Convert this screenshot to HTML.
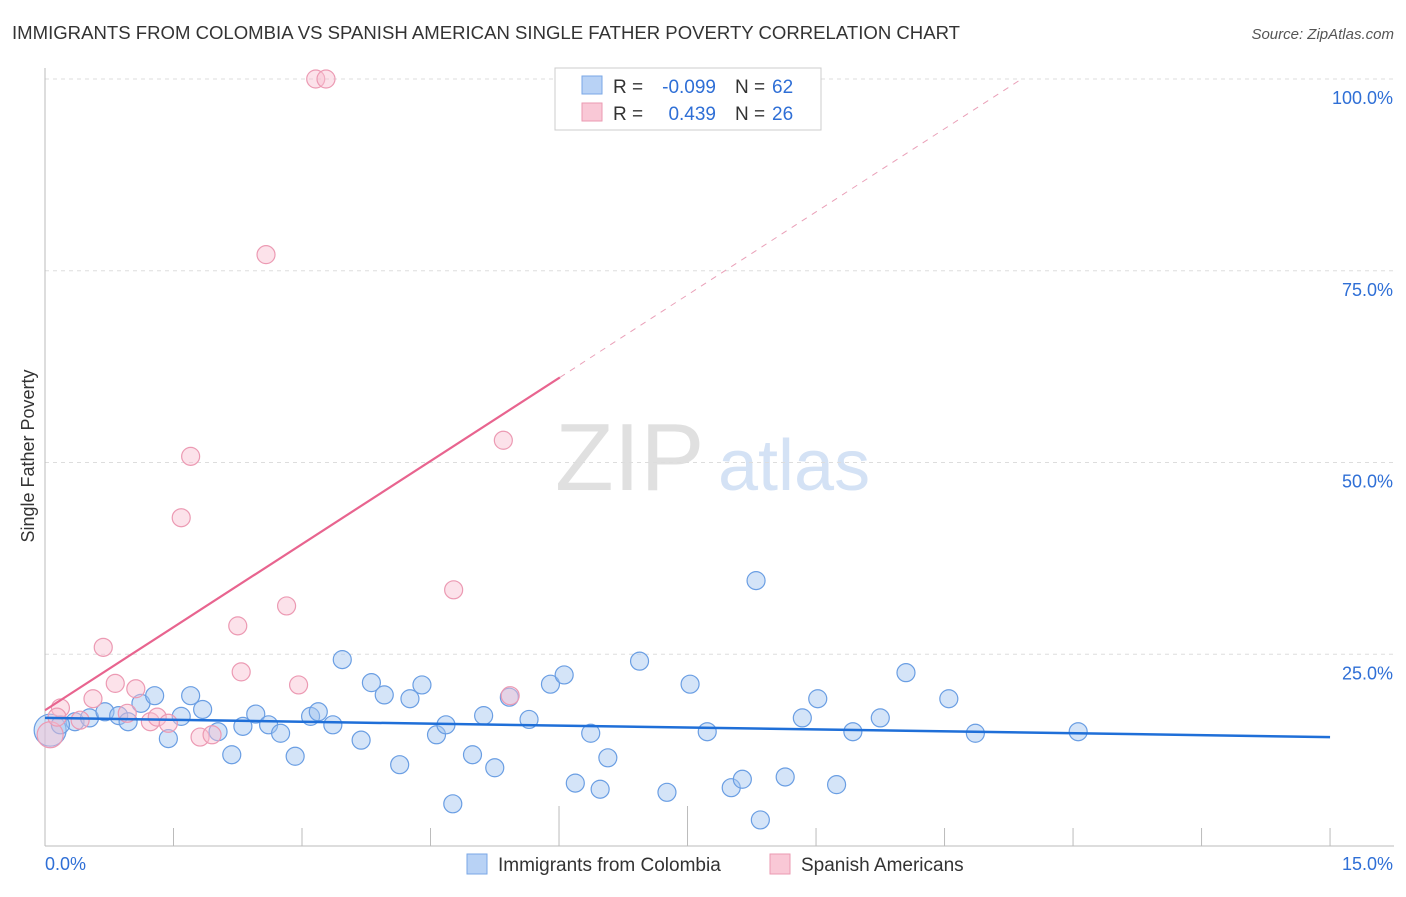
<!DOCTYPE html>
<html><head><meta charset="utf-8"><style>
body{margin:0;background:#fff;font-family:"Liberation Sans",sans-serif;}
svg text{font-family:"Liberation Sans",sans-serif;}
</style></head><body>
<svg id="c" width="1406" height="892" xmlns="http://www.w3.org/2000/svg">
<text x="12" y="39" font-size="18" fill="#333" textLength="948" lengthAdjust="spacingAndGlyphs">IMMIGRANTS FROM COLOMBIA VS SPANISH AMERICAN SINGLE FATHER POVERTY CORRELATION CHART</text>
<text x="1394" y="39" font-size="15" fill="#555" font-style="italic" text-anchor="end">Source: ZipAtlas.com</text>
<text x="34" y="456" font-size="18" fill="#333" text-anchor="middle" transform="rotate(-90 34 456)">Single Father Poverty</text>
<text x="555" y="490" font-size="96" fill="#e0e0e0" font-family="Liberation Serif">ZIP</text>
<text x="718" y="490" font-size="72" fill="#d4e2f5">atlas</text>
<g id="grid"></g><g id="marks"></g>
<g>
<rect x="555" y="68" width="266" height="62" fill="#fff" stroke="#ccc"/>
<rect x="582" y="76" width="20" height="18" fill="#b8d2f5" stroke="#7aa7e6"/>
<rect x="582" y="103" width="20" height="18" fill="#f9c8d6" stroke="#eb9ab2"/>
<text x="613" y="93" font-size="19" fill="#333">R =</text>
<text x="716" y="93" font-size="19" fill="#2f6fd6" text-anchor="end">-0.099</text>
<text x="735" y="93" font-size="19" fill="#333">N =</text>
<text x="772" y="93" font-size="19" fill="#2f6fd6">62</text>
<text x="613" y="120" font-size="19" fill="#333">R =</text>
<text x="716" y="120" font-size="19" fill="#2f6fd6" text-anchor="end">0.439</text>
<text x="735" y="120" font-size="19" fill="#333">N =</text>
<text x="772" y="120" font-size="19" fill="#2f6fd6">26</text>
</g>
<g>
<rect x="467" y="854" width="20" height="20" fill="#b8d2f5" stroke="#7aa7e6"/>
<text x="498" y="871" font-size="19" fill="#333">Immigrants from Colombia</text>
<rect x="770" y="854" width="20" height="20" fill="#f9c8d6" stroke="#eb9ab2"/>
<text x="801" y="871" font-size="19" fill="#333">Spanish Americans</text>
</g>
</svg>
<script>
const yTicks=[25,50,75,100];
const xTickLabels=["0.0%","15.0%"];
const blueX=[0.06,0.35,0.52,0.70,0.86,0.97,1.12,1.28,1.44,1.59,1.70,1.84,2.02,2.18,2.31,2.46,2.61,2.75,2.92,3.10,3.19,3.36,3.47,3.69,3.81,3.96,4.14,4.26,4.40,4.57,4.68,4.76,4.99,5.12,5.25,5.42,5.65,5.90,6.06,6.19,6.37,6.48,6.57,6.94,7.26,7.53,7.73,8.01,8.14,8.30,8.35,8.64,8.84,9.02,9.24,9.43,9.75,10.05,10.55,10.86,12.06,0.18];
const blueY=[15.1,16.2,16.7,17.5,17.0,16.2,18.6,19.6,14.0,16.9,19.6,17.8,14.9,11.9,15.6,17.2,15.8,14.7,11.7,16.9,17.5,15.8,24.3,13.8,21.3,19.7,10.6,19.2,21.0,14.5,15.8,5.5,11.9,17.0,10.2,19.4,16.5,21.1,22.3,8.2,14.7,7.4,11.5,24.1,7.0,21.1,14.9,7.6,8.7,34.6,3.4,9.0,16.7,19.2,8.0,14.9,16.7,22.6,19.2,14.7,14.9,15.8];
const pinkX=[0.06,0.18,0.41,0.56,0.68,0.82,0.96,1.06,1.23,1.31,1.44,1.59,1.70,1.81,1.95,2.25,2.29,2.82,2.96,3.16,3.28,2.58,4.77,5.35,5.43,0.14];
const pinkY=[14.5,18.0,16.4,19.2,25.9,21.2,17.3,20.5,16.2,16.8,16.0,42.8,50.8,14.2,14.5,28.7,22.7,31.3,21.0,100,100,77.1,33.4,52.9,19.6,16.8];
const blueFit=[16.7,14.2];
const pinkFit=[17.7,7.22];
const X0=45,XS=85.67,Y0=846,YS=7.67;
const sx=v=>X0+v*XS, sy=v=>Y0-v*YS;
const NS="http://www.w3.org/2000/svg";
function mk(t,a,p){const e=document.createElementNS(NS,t);for(const k in a)e.setAttribute(k,a[k]);p.appendChild(e);return e;}
const g=document.getElementById('grid'),m=document.getElementById('marks');
yTicks.forEach(t=>{
 const l=mk('line',{x1:45,x2:1394,y1:sy(t),y2:sy(t),stroke:'#ddd','stroke-dasharray':'4,4'},g);
 
 
 const tx=mk('text',{x:1393,y:sy(t)+25,'font-size':18,fill:'#2f6fd6','text-anchor':'end'},g);tx.textContent=t.toFixed(1)+'%';
 
 
});
const ax=mk('line',{x1:45,x2:45,y1:68,y2:846,stroke:'#bbb'},g);


const bx=mk('line',{x1:45,x2:1394,y1:846,y2:846,stroke:'#bbb'},g);


for(let i=1;i<=10;i++){const t=mk('line',{x1:sx(i*1.5),x2:sx(i*1.5),y1:846-(i==4||i==5?40:18),y2:846,stroke:'#bbb'},g);
 
 }
const xl=mk('text',{x:45,y:870,'font-size':18,fill:'#2f6fd6'},g);xl.textContent=xTickLabels[0];


const xr=mk('text',{x:1393,y:870,'font-size':18,fill:'#2f6fd6','text-anchor':'end'},g);xr.textContent=xTickLabels[1];


blueX.forEach((x,i)=>{const c=mk('circle',{cx:sx(x),cy:sy(blueY[i]),r:i==0?16:9,fill:'rgba(160,196,240,0.45)',stroke:'#6a9ee3','stroke-width':1.2},m);
 
 });
pinkX.forEach((x,i)=>{const c=mk('circle',{cx:sx(x),cy:sy(pinkY[i]),r:i==0?13:9,fill:'rgba(248,190,208,0.45)',stroke:'#ec9ab3','stroke-width':1.2},m);
 
 });
const bl=mk('line',{x1:sx(0),y1:sy(blueFit[0]),x2:sx(15),y2:sy(blueFit[1]),stroke:'#1f6fd8','stroke-width':2.5},m);


const pe=6.01, pd=(100-pinkFit[0])/pinkFit[1];
const pl=mk('line',{x1:sx(0),y1:sy(pinkFit[0]),x2:sx(pe),y2:sy(pinkFit[0]+pinkFit[1]*pe),stroke:'#e8648f','stroke-width':2.2},m);


const pdl=mk('line',{x1:sx(pe),y1:sy(pinkFit[0]+pinkFit[1]*pe),x2:sx(pd),y2:sy(100),stroke:'#eaa0b8','stroke-width':1,'stroke-dasharray':'6,6'},m);


</script>
</body></html>
